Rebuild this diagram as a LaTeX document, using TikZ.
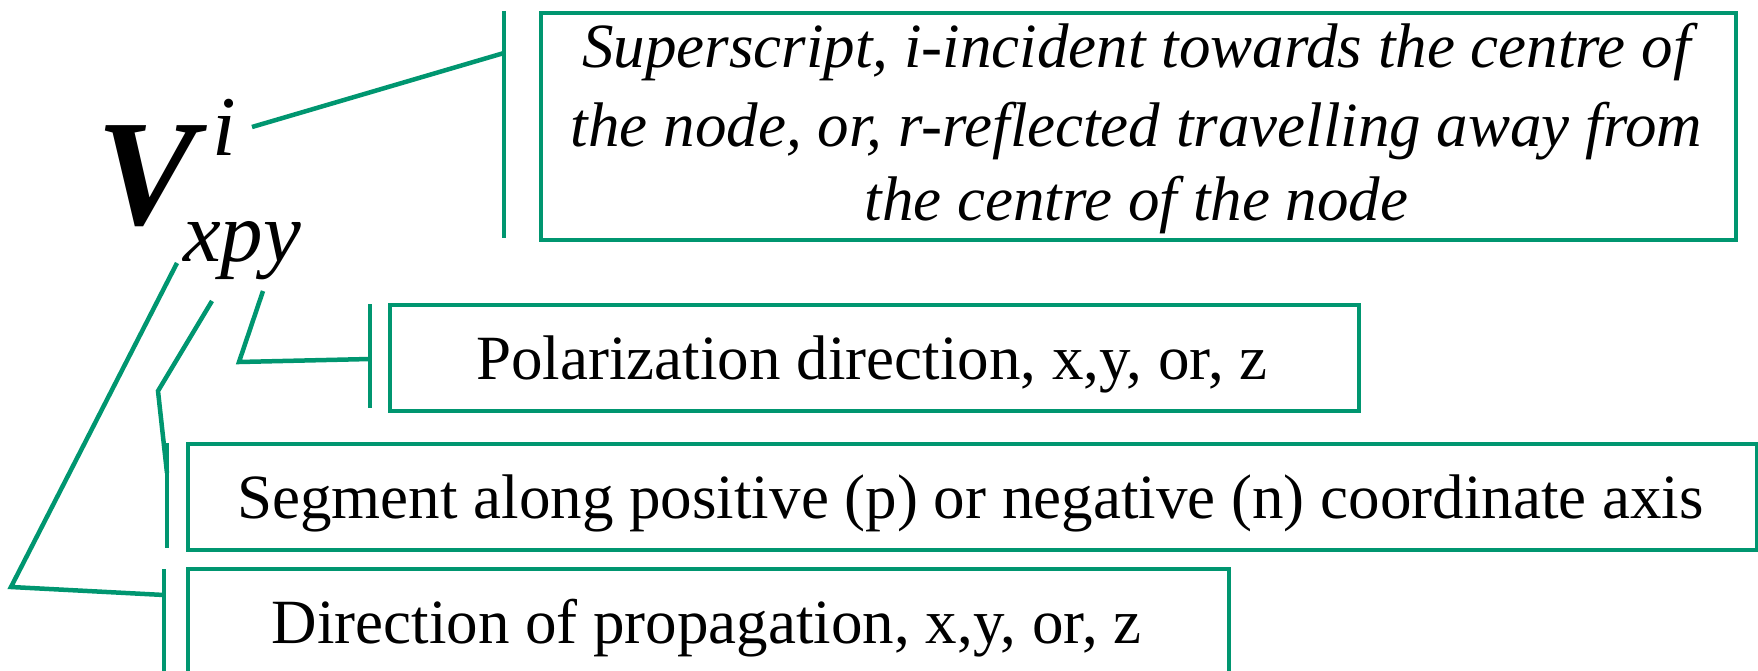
\documentclass[tikz,border=0pt]{standalone}
\usepackage{fontspec}
\setmainfont{Liberation Serif}[
  BoldFont={Liberation Serif Bold},
  ItalicFont={Liberation Serif Italic},
  BoldItalicFont={Liberation Serif Bold Italic}]
\definecolor{grn}{RGB}{0,150,112}
\begin{document}
\begin{tikzpicture}[x=1pt,y=-1pt,
  box/.style={draw=grn, line width=4pt, anchor=north west, inner sep=0pt},
  conn/.style={draw=grn, line width=4.5pt},
  tick/.style={draw=grn, line width=4pt},
  txt/.style={anchor=base, inner sep=0pt, font=\fontsize{63}{76}\selectfont},
  itxt/.style={txt, font=\fontsize{63}{76}\selectfont\itshape},
  sym/.style={anchor=base west, inner sep=0pt}]
\useasboundingbox (0,0) rectangle (1758,671);
% boxes
\node[box, minimum width=1195pt, minimum height=227pt] (b1) at (539,11) {};
\node[box, minimum width=969pt, minimum height=106pt] (b2) at (388,303) {};
\node[box, minimum width=1569pt, minimum height=106pt] (b3) at (186,442) {};
\node[box, minimum width=1041pt, minimum height=140pt] (b4) at (186,567) {};
% texts
\node[itxt] (t1a) at (1136.5,68) {Superscript, i-incident towards the centre of};
\node[itxt] (t1b) at (1136.5,147) {the node, or, r-reflected travelling away from};
\node[itxt] (t1c) at (1136.5,220) {the centre of the node};
\node[txt] (t2) at (872,379) {Polarization direction, x,y, or, z};
\node[txt] (t3) at (970.5,518) {Segment along positive (p) or negative (n) coordinate axis};
\node[txt] (t4) at (706.5,643) {Direction of propagation, x,y, or, z};
% symbol
\node[sym, font=\fontsize{151}{151}\selectfont\bfseries\itshape] (V) at (96,225) {V};
\node[sym, font=\fontsize{85}{85}\selectfont\itshape] (sup) at (212,156) {i};
\node[sym, font=\fontsize{85}{85}\selectfont\itshape] (sub) at (183,261) {xpy};
% tick coordinates
\coordinate (k1t) at (504,11);  \coordinate (k1b) at (504,238);
\coordinate (k2t) at (370,304); \coordinate (k2b) at (370,408);
\coordinate (k3t) at (167,443); \coordinate (k3b) at (167,548);
\coordinate (k4t) at (164,569); \coordinate (k4b) at (164,690);
% connector points
\coordinate (s1) at (252,127); \coordinate (e1) at (504,53);
\coordinate (s2) at (263,291); \coordinate (m2) at (239,362); \coordinate (e2) at (370,359);
\coordinate (s3) at (212,301); \coordinate (m3) at (158,391); \coordinate (e3) at (167,473);
\coordinate (s4) at (177,263); \coordinate (m4) at (11,587); \coordinate (e4) at (164,595);
% ticks
\draw[tick] (k1t) -- (k1b);
\draw[tick] (k2t) -- (k2b);
\draw[tick] (k3t) -- (k3b);
\draw[tick] (k4t) -- (k4b);
% connectors
\draw[conn] (s1) -- (e1);
\draw[conn] (s2) -- (m2) -- (e2);
\draw[conn] (s3) -- (m3) -- (e3);
\draw[conn] (s4) -- (m4) -- (e4);
\end{tikzpicture}
\end{document}
